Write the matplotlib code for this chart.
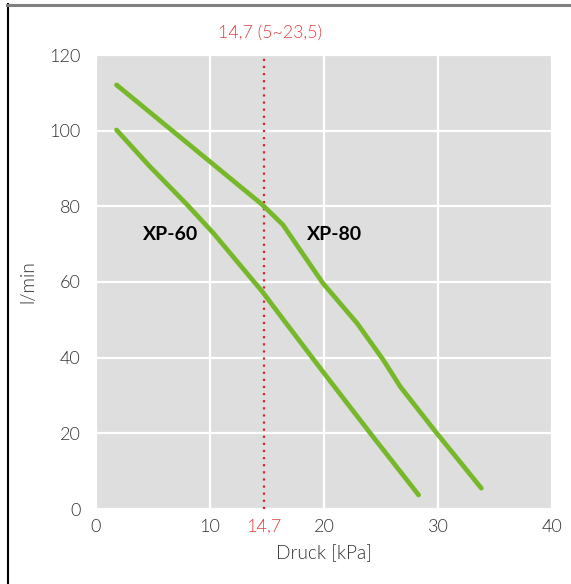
import matplotlib
matplotlib.use("Agg")
import matplotlib.pyplot as plt
from matplotlib.lines import Line2D

# Kennlinien (Druck kPa -> l/min)
xp80_druck = [1.8, 10.0, 14.6, 16.4, 17.9, 19.9, 21.4, 22.9, 25.2, 26.7, 29.9, 33.8]
xp80_flow = [112.1, 91.8, 80.4, 75.1, 68.5, 59.7, 54.4, 49.1, 39.4, 32.3, 20.0, 5.5]
xp60_druck = [1.8, 4.7, 8.0, 10.3, 14.6, 16.7, 19.8, 22.3, 24.3, 28.3]
xp60_flow = [100.2, 90.6, 80.4, 72.9, 57.4, 49.0, 36.7, 26.9, 19.1, 3.7]

x_ticks = [0, 10, 20, 30, 40]
y_ticks = [0, 20, 40, 60, 80, 100, 120]
nenndruck = 14.7
nenn_label = "14,7"
bereich_label = "14,7 (5~23,5)"

plt.rcParams['font.family'] = ['Lato', 'DejaVu Sans']

gruen = '#76b82a'
rot = '#d9232a'
text_rot = '#e04040'
grau_txt = '#333333'
duenn = 300

fig = plt.figure(figsize=(5.71, 5.84), dpi=100)
ax = fig.add_axes([96/571, 75/584, 456/571, 454/584])
ax.set_facecolor('#dedede')

ax.plot(xp80_druck, xp80_flow, color=gruen, lw=3.4, solid_capstyle='round', solid_joinstyle='round', zorder=3)
ax.plot(xp60_druck, xp60_flow, color=gruen, lw=3.4, solid_capstyle='round', solid_joinstyle='round', zorder=3)
ax.axvline(nenndruck, color=rot, lw=1.6, ls=(0, (1, 2.2)), zorder=2)

ax.text(6.5, 72.5, "XP-60", fontsize=14, fontweight='bold', ha='center', va='center', color='black')
ax.text(20.9, 72.5, "XP-80", fontsize=14, fontweight='bold', ha='center', va='center', color='black')
ax.text(15.3, 125.8, bereich_label, fontsize=12.8, color=text_rot, fontweight=duenn,
        ha='center', va='center', clip_on=False)

ax.set_xlim(0, 40)
ax.set_ylim(0, 120)
ax.set_xticks(x_ticks)
ax.set_yticks(y_ticks)
ax.set_xticks([nenndruck], minor=True)
ax.set_xticklabels([nenn_label], minor=True)
ax.tick_params(axis='x', which='minor', length=0, pad=7, labelsize=13, labelcolor=text_rot)
ax.tick_params(axis='both', which='major', length=0, labelsize=13, labelcolor=grau_txt)
ax.tick_params(axis='x', which='major', pad=7)
ax.tick_params(axis='y', which='major', pad=11)
for lab in ax.get_xticklabels(which='both') + ax.get_yticklabels():
    lab.set_fontweight(duenn)

ax.grid(True, which='major', color='white', lw=1.6)
ax.set_axisbelow(True)
for s in ax.spines.values():
    s.set_visible(False)

ax.set_xlabel("Druck [kPa]", fontsize=13.8, color=grau_txt, fontweight=duenn, labelpad=7)
ax.set_ylabel("l/min", fontsize=13.8, color=grau_txt, fontweight=duenn, labelpad=9)

# Rahmen links und oben
fig.add_artist(Line2D([7.5/571, 7.5/571], [0, 1 - 4/584], transform=fig.transFigure, color='black', lw=1.5))
fig.add_artist(Line2D([7/571, 1], [1 - 5/584, 1 - 5/584], transform=fig.transFigure, color='#808080', lw=2.2))

fig.savefig("out.png", dpi=100)
